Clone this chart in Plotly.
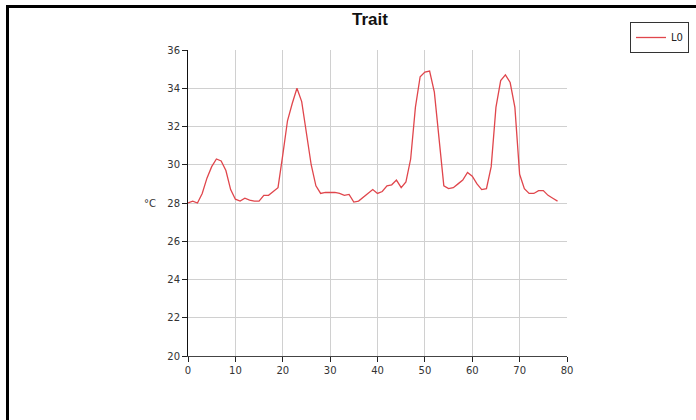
import plotly.graph_objects as go

x_vals = list(range(0, 79))
temps = [28.0, 28.1, 28.0, 28.5, 29.3, 29.9, 30.3, 30.2, 29.7, 28.7,
         28.2, 28.1, 28.25, 28.15, 28.1, 28.1, 28.4, 28.4, 28.6, 28.8,
         30.5, 32.3, 33.2, 34.0, 33.3, 31.6, 30.0, 28.9, 28.5, 28.55,
         28.55, 28.55, 28.5, 28.4, 28.45, 28.05, 28.1, 28.3, 28.45, 28.7,
         28.5, 28.6, 28.9, 28.95, 29.2, 28.8, 29.1, 30.3, 33.0, 34.6,
         34.85, 34.9, 33.8, 31.2, 28.9, 28.75, 28.8, 29.0, 29.2, 29.6,
         29.4, 29.0, 28.7, 28.75, 29.9, 33.0, 34.4, 34.7, 34.3, 33.0,
         29.5, 28.75, 28.5, 28.5, 28.65, 28.65, 28.4, 28.25, 28.1]
series_name = "L0"
title_text = "Trait"
y_label = "°C"

W, H = 696, 420
L, R, T, B = 188, 129, 50, 64
pw, ph = W - L - R, H - T - B

def px_to_paper_x(px):
    return (px - L) / pw

def px_to_paper_y(py):
    return 1 + (T - py) / ph

fig = go.Figure()
fig.add_trace(go.Scatter(x=x_vals, y=temps, mode="lines", name=series_name,
                         line=dict(color="#e0464c", width=1.3)))

fig.update_layout(
    width=W, height=H,
    margin=dict(l=L, r=R, t=T, b=B, pad=0, autoexpand=False),
    paper_bgcolor="white", plot_bgcolor="white",
    font=dict(family="DejaVu Sans", size=10, color="#333333"),
    title=dict(text="<b>" + title_text + "</b>", x=px_to_paper_x(370), xref="paper",
               xanchor="center", y=1 - 19 / H, yanchor="middle",
               font=dict(family="Liberation Sans", size=17, color="#111111")),
    showlegend=True,
    legend=dict(x=px_to_paper_x(689), xanchor="right", y=px_to_paper_y(22), yanchor="top",
                bordercolor="#333333", borderwidth=1, bgcolor="white",
                font=dict(family="DejaVu Sans", size=10, color="#222222"),
                itemwidth=30, tracegroupgap=0),
    xaxis=dict(range=[0, 80], dtick=10, tick0=0, showgrid=True, gridcolor="#d0d0d0",
               gridwidth=1, zeroline=False, showline=True, linecolor="#444444", linewidth=1,
               ticks="outside", ticklen=5, tickcolor="#222222", mirror=False,
               tickfont=dict(size=10, color="#333333")),
    yaxis=dict(range=[20, 36], dtick=2, tick0=20, showgrid=True, gridcolor="#d0d0d0",
               gridwidth=1, zeroline=False, showline=True, linecolor="#111111", linewidth=1,
               ticks="outside", ticklen=5, tickcolor="#222222",
               tickfont=dict(size=10, color="#333333")),
    shapes=[
        dict(type="line", xref="paper", yref="paper",
             x0=px_to_paper_x(6), x1=px_to_paper_x(W + 5),
             y0=px_to_paper_y(6.5), y1=px_to_paper_y(6.5),
             line=dict(color="black", width=3)),
        dict(type="line", xref="paper", yref="paper",
             x0=px_to_paper_x(7.5), x1=px_to_paper_x(7.5),
             y0=px_to_paper_y(5), y1=px_to_paper_y(H + 5),
             line=dict(color="black", width=3)),
    ],
    annotations=[
        dict(text=y_label, xref="paper", yref="paper", x=px_to_paper_x(158), xanchor="right",
             y=px_to_paper_y(203), yanchor="middle", showarrow=False,
             font=dict(family="DejaVu Sans", size=10, color="#333333")),
    ],
)

fig.write_html(
    "out.html",
    config={"displayModeBar": False},
    post_script=("document.documentElement.style.margin='0px';"
                 "document.body.style.margin='0px';"
                 "document.documentElement.style.overflow='hidden';"
                 "document.body.style.overflow='hidden';"),
)
